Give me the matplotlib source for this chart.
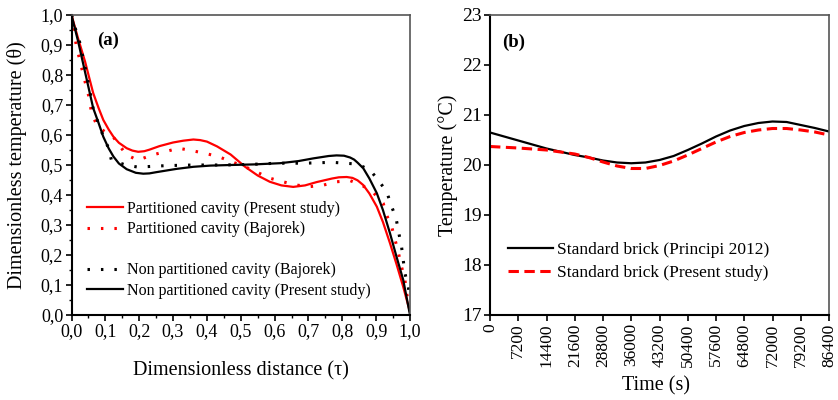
import matplotlib
matplotlib.use("Agg")
import matplotlib.pyplot as plt
from matplotlib.lines import Line2D
from matplotlib.ticker import MultipleLocator, FixedLocator, FuncFormatter

plt.rcParams['font.family'] = ['Liberation Serif', 'DejaVu Serif']

# ---------------- Panel (a) data ----------------
tau_part_present = [0.0, 0.02, 0.04, 0.064, 0.08, 0.094, 0.11, 0.124, 0.14, 0.163, 0.18, 0.197, 0.215, 0.23,
                    0.26, 0.30, 0.33, 0.36, 0.38, 0.40, 0.43, 0.47, 0.513, 0.55, 0.586, 0.62, 0.655, 0.69,
                    0.724, 0.77, 0.79, 0.813, 0.83, 0.845, 0.862, 0.88, 0.902, 0.92, 0.941, 0.96, 0.98, 1.0]
theta_part_present = [1.0, 0.92, 0.845, 0.74, 0.69, 0.65, 0.618, 0.594, 0.574, 0.556, 0.548, 0.544, 0.546,
                      0.551, 0.563, 0.575, 0.581, 0.585, 0.583, 0.578, 0.562, 0.535, 0.494, 0.465, 0.444,
                      0.432, 0.427, 0.432, 0.443, 0.455, 0.459, 0.46, 0.457, 0.449, 0.433, 0.405, 0.361,
                      0.31, 0.239, 0.17, 0.094, 0.01]

tau_part_bajorek = [0.0, 0.014, 0.035, 0.054, 0.059, 0.078, 0.10, 0.123, 0.162, 0.196, 0.237, 0.276, 0.316,
                    0.355, 0.394, 0.434, 0.473, 0.513, 0.55, 0.586, 0.625, 0.665, 0.705, 0.744, 0.783,
                    0.823, 0.857, 0.89, 0.921, 0.931, 0.946, 0.956, 0.966, 0.975, 0.985, 0.99, 1.0]
theta_part_bajorek = [1.0, 0.899, 0.80, 0.716, 0.671, 0.627, 0.61, 0.594, 0.534, 0.516, 0.533, 0.544, 0.556,
                      0.548, 0.539, 0.528, 0.511, 0.494, 0.475, 0.456, 0.444, 0.433, 0.428, 0.433, 0.444,
                      0.448, 0.433, 0.41, 0.372, 0.333, 0.294, 0.25, 0.206, 0.161, 0.117, 0.072, 0.02]

tau_non_bajorek = [0.0, 0.01, 0.024, 0.045, 0.064, 0.078, 0.093, 0.108, 0.118, 0.16, 0.196, 0.281, 0.36,
                   0.45, 0.53, 0.606, 0.69, 0.77, 0.808, 0.845, 0.882, 0.906, 0.931, 0.946, 0.959, 0.966,
                   0.975, 0.98, 0.985, 0.995, 1.0]
theta_non_bajorek = [1.0, 0.96, 0.91, 0.80, 0.689, 0.643, 0.599, 0.56, 0.516, 0.50, 0.493, 0.498, 0.50,
                     0.50, 0.502, 0.506, 0.506, 0.509, 0.506, 0.503, 0.483, 0.45, 0.411, 0.361, 0.322,
                     0.278, 0.228, 0.183, 0.139, 0.094, 0.05]

tau_non_present = [0.0, 0.02, 0.04, 0.064, 0.08, 0.094, 0.11, 0.124, 0.14, 0.163, 0.19, 0.212, 0.23, 0.25,
                   0.31, 0.36, 0.41, 0.47, 0.54, 0.616, 0.67, 0.714, 0.76, 0.783, 0.805, 0.823, 0.835,
                   0.845, 0.862, 0.88, 0.902, 0.92, 0.941, 0.96, 0.98, 1.0]
theta_non_present = [1.0, 0.91, 0.81, 0.69, 0.64, 0.594, 0.555, 0.528, 0.505, 0.486, 0.474, 0.471, 0.472,
                     0.476, 0.487, 0.494, 0.498, 0.50, 0.502, 0.506, 0.513, 0.522, 0.530, 0.532, 0.531,
                     0.525, 0.518, 0.508, 0.489, 0.455, 0.406, 0.35, 0.272, 0.195, 0.117, 0.0]

labels_a = ["Partitioned cavity (Present study)", "Partitioned cavity (Bajorek)",
            "Non partitioned cavity (Bajorek)", "Non partitioned cavity (Present study)"]

# ---------------- Panel (b) data ----------------
time_s = [0, 7200, 14400, 21600, 25200, 28800, 32400, 36000, 39600, 43200, 46800, 50400, 54000, 57600,
          61200, 64800, 68400, 72000, 75600, 79200, 82800, 86400]
temp_principi = [20.65, 20.49, 20.33, 20.20, 20.15, 20.09, 20.05, 20.035, 20.05, 20.10, 20.18, 20.30,
                 20.43, 20.57, 20.69, 20.78, 20.84, 20.87, 20.86, 20.80, 20.74, 20.67]
temp_present = [20.37, 20.34, 20.30, 20.22, 20.15, 20.06, 19.98, 19.93, 19.93, 19.99, 20.08, 20.20,
                20.33, 20.46, 20.57, 20.65, 20.70, 20.73, 20.73, 20.70, 20.66, 20.60]
time_ticks = [0, 7200, 14400, 21600, 28800, 36000, 43200, 50400, 57600, 64800, 72000, 79200, 86400]
labels_b = ["Standard brick (Principi 2012)", "Standard brick (Present study)"]

# ---------------- Figure ----------------
W, H = 838, 400
fig = plt.figure(figsize=(W / 100, H / 100), dpi=100)
axa = fig.add_axes([71.5 / W, 85 / H, 338.5 / W, 300 / H])
axb = fig.add_axes([490 / W, 85 / H, 339 / W, 300 / H])

RED = '#ff0000'
dot_style = (0, (0.8, 3.6))

axa.plot(tau_part_present, theta_part_present, color=RED, lw=1.6, label=labels_a[0])
axa.plot(tau_part_bajorek, theta_part_bajorek, color=RED, lw=2.2, linestyle=dot_style, label=labels_a[1])
axa.plot(tau_non_bajorek, theta_non_bajorek, color='black', lw=2.2, linestyle=dot_style, label=labels_a[2])
axa.plot(tau_non_present, theta_non_present, color='black', lw=1.6, label=labels_a[3])

axa.set_xlim(0, 1)
axa.set_ylim(0, 1)
fmt = FuncFormatter(lambda v, p: f"{v:.1f}".replace('.', ','))
axa.xaxis.set_major_locator(MultipleLocator(0.1))
axa.xaxis.set_minor_locator(MultipleLocator(0.05))
axa.yaxis.set_major_locator(MultipleLocator(0.1))
axa.yaxis.set_minor_locator(MultipleLocator(0.05))
axa.xaxis.set_major_formatter(fmt)
axa.yaxis.set_major_formatter(fmt)
axa.set_xlabel("Dimensionless distance (τ)", fontsize=14.5)
axa.set_ylabel("Dimensionless temperature (θ)", fontsize=14.5)
axa.xaxis.set_label_coords(0.5, -0.155)
axa.yaxis.set_label_coords(-0.13, 0.5)
axa.text(0.075, 0.914, "(a)", transform=axa.transAxes, fontsize=13.5, fontweight='bold',
         ha='left', va='center')

h = axa.get_legend_handles_labels()[0]
blank = Line2D([], [], linestyle='none')
axa.legend([h[0], h[1], blank, h[2], h[3]], [labels_a[0], labels_a[1], ' ', labels_a[2], labels_a[3]],
           loc='upper left', bbox_to_anchor=(0.045, 0.38), frameon=False, fontsize=11.5,
           handlelength=2.3, handletextpad=0.2, labelspacing=0.28, borderpad=0, borderaxespad=0)

axb.plot(time_s, temp_principi, color='black', lw=1.6, label=labels_b[0])
axb.plot(time_s, temp_present, color=RED, lw=2.2, linestyle=(0, (3.4, 1.8)), label=labels_b[1])
axb.set_xlim(0, 86400)
axb.set_ylim(17, 23)
axb.xaxis.set_major_locator(FixedLocator(time_ticks))
axb.set_xticklabels([str(t) for t in time_ticks], rotation=90)
axb.yaxis.set_major_locator(MultipleLocator(1))
axb.set_xlabel("Time (s)", fontsize=14.5)
axb.set_ylabel("Temperature (°C)", fontsize=14.5)
axb.xaxis.set_label_coords(0.49, -0.205)
axb.yaxis.set_label_coords(-0.095, 0.5)
axb.text(0.035, 0.908, "(b)", transform=axb.transAxes, fontsize=13.5, fontweight='bold',
         ha='left', va='center')
axb.legend(loc='upper left', bbox_to_anchor=(0.053, 0.245), frameon=False, fontsize=12.5,
           handlelength=2.6, handletextpad=0.2, labelspacing=0.42, borderpad=0, borderaxespad=0)

for ax in (axa, axb):
    for side in ('left', 'bottom'):
        ax.spines[side].set_linewidth(1.5)
        ax.spines[side].set_color('black')
    for side in ('top', 'right'):
        ax.spines[side].set_linewidth(1.2)
        ax.spines[side].set_color('#555555')
    ax.tick_params(which='major', direction='out', length=4, width=1.2, labelsize=13, pad=2)
    ax.tick_params(which='minor', direction='out', length=2.2, width=1.0)
axb.tick_params(axis='y', labelsize=14)
axb.tick_params(axis='x', labelsize=12.5)

fig.savefig("out.png", dpi=100)
